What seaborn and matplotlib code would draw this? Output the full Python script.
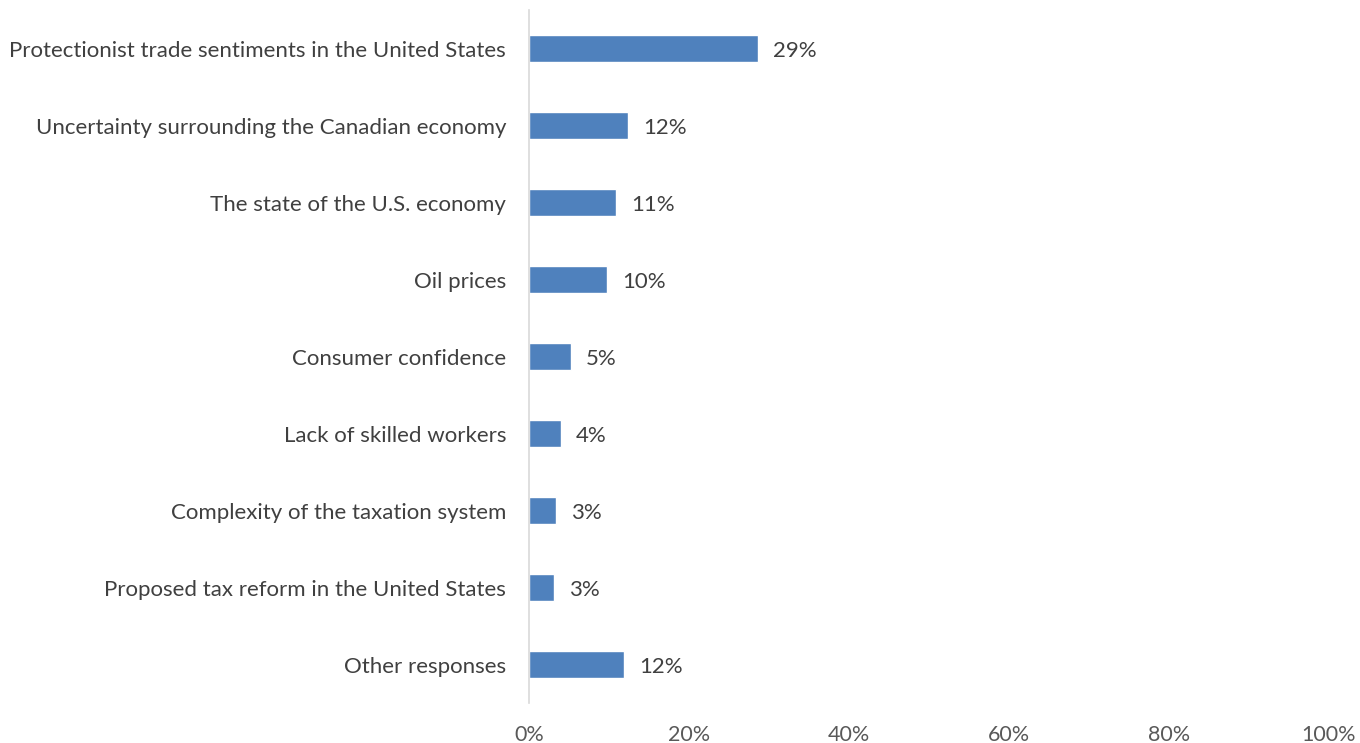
import matplotlib
matplotlib.use("Agg")
import matplotlib.pyplot as plt
import seaborn as sns
import pandas as pd
from matplotlib.ticker import FuncFormatter

categories = [
    "Protectionist trade sentiments in the United States",
    "Uncertainty surrounding the Canadian economy",
    "The state of the U.S. economy",
    "Oil prices",
    "Consumer confidence",
    "Lack of skilled workers",
    "Complexity of the taxation system",
    "Proposed tax reform in the United States",
    "Other responses",
]
shares = [28.6, 12.4, 10.9, 9.8, 5.2, 4.0, 3.4, 3.1, 11.9]
x_ticks = [0, 20, 40, 60, 80, 100]

df = pd.DataFrame({"category": categories, "share": shares})

sns.set_theme(style="white")
plt.rcParams["font.family"] = ["Lato", "DejaVu Sans"]

fig = plt.figure(figsize=(13.6, 7.43), dpi=100)
ax = fig.add_axes([0.389, 0.0538, 0.588, 0.9327])

sns.barplot(data=df, x="share", y="category", orient="h", color="#4F81BD",
            saturation=1, width=0.35, ax=ax)

for i, v in enumerate(shares):
    ax.text(v + 1.9, i, f"{v:.0f}%", va="center_baseline", ha="left",
            fontsize=16, color="#404040")

ax.set_xlim(0, 100)
ax.set_xticks(x_ticks)
ax.xaxis.set_major_formatter(FuncFormatter(lambda x, _: f"{x:.0f}%"))
ax.set_xlabel("")
ax.set_ylabel("")
ax.tick_params(axis="x", labelsize=15.5, labelcolor="#595959", length=0, pad=16)
ax.tick_params(axis="y", labelsize=16, labelcolor="#404040", length=0, pad=16.5)

for side in ["top", "right", "bottom"]:
    ax.spines[side].set_visible(False)
ax.spines["left"].set_color("#D9D9D9")
ax.spines["left"].set_linewidth(1.2)

fig.savefig("out.png", dpi=100)
